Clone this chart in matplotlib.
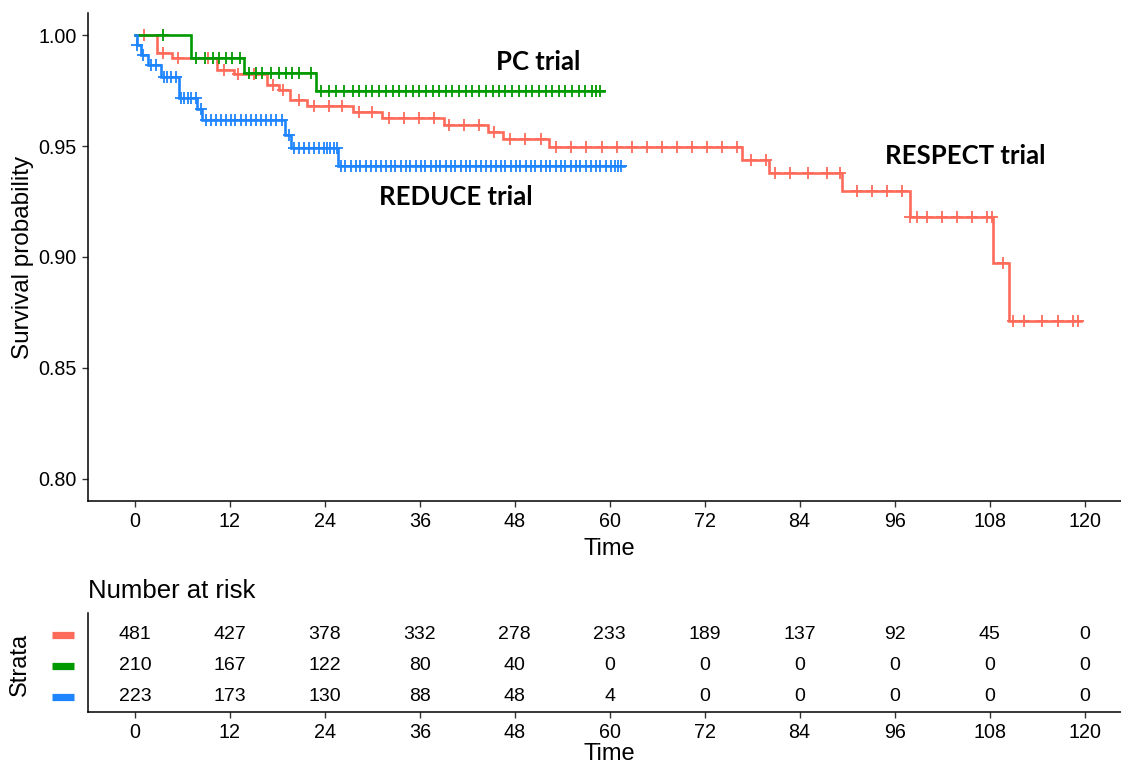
import numpy as np
import matplotlib
matplotlib.use("Agg")
import matplotlib.pyplot as plt
from matplotlib import transforms

plt.rcParams["font.family"] = ["Liberation Sans", "DejaVu Sans"]

# ---------------- data ----------------
strata = ["RESPECT trial", "PC trial", "REDUCE trial"]
colors = ["#FF6B5B", "#009A00", "#1F84FF"]

# RESPECT (red)
respect_event_t = [2.8, 4.7, 10.4, 12.5, 16.7, 18.2, 19.6, 21.7, 27.5, 31.2, 39.0, 44.6,
                   46.5, 52.3, 76.7, 80.1, 89.3, 97.9, 108.4, 110.5]
respect_surv = [0.9918, 0.9895, 0.9845, 0.9827, 0.9775, 0.9752, 0.9707, 0.9680, 0.9655,
                0.9625, 0.9595, 0.9564, 0.9530, 0.9497, 0.9437, 0.9377, 0.9297, 0.9182,
                0.8972, 0.8713]
respect_end = 119.6
respect_censor = [1.2, 3.5, 5.5, 9.2, 11.2, 13.0, 15.0, 17.4, 18.7, 20.7, 22.6, 24.5, 26.2,
                  28.3, 30.0, 32.1, 34.0, 35.9, 37.8, 39.7, 41.6, 43.5, 45.4, 47.4, 49.3,
                  51.3, 53.2, 55.1, 57.0, 59.0, 60.9, 62.8, 64.7, 66.6, 68.5, 70.4, 72.3,
                  74.2, 76.1, 77.8, 79.7, 80.9, 82.8, 85.0, 87.5, 89.1, 91.2, 93.1, 95.0,
                  96.9, 97.9, 98.8, 100.1, 102.0, 103.9, 105.8, 107.7, 108.3, 109.7, 111.0,
                  112.3, 114.6, 116.7, 118.6, 119.2]

# PC (green)
pc_event_t = [7.05, 13.8, 22.9]
pc_surv = [0.9895, 0.9830, 0.9748]
pc_end = 59.3
pc_censor = [3.5, 7.7, 8.8, 9.8, 10.6, 11.5, 12.3, 13.3, 14.4, 15.3, 16.1, 17.2, 18.2, 19.1,
             19.9, 20.7, 22.2, 23.5, 24.5, 25.4, 26.4, 27.5, 28.3, 29.2, 30.0, 30.9, 31.7,
             32.6, 33.4, 34.2, 35.1, 35.9, 36.8, 37.6, 38.4, 39.3, 40.1, 41.0, 41.8, 42.6,
             43.5, 44.3, 45.2, 46.0, 46.8, 47.7, 48.5, 49.4, 50.2, 51.0, 51.9, 52.7, 53.6,
             54.4, 55.2, 56.1, 56.9, 57.8, 58.3, 58.8]

# REDUCE (blue)
reduce_event_t = [0.3, 0.75, 1.6, 3.3, 5.6, 7.9, 8.5, 19.0, 19.7, 25.6]
reduce_surv = [0.9955, 0.9910, 0.9865, 0.9812, 0.9715, 0.9665, 0.9617, 0.9550, 0.9490, 0.9410]
reduce_end = 61.8
reduce_censor = [0.3, 1.0, 2.0, 2.7, 3.7, 4.1, 4.5, 5.2, 5.8, 6.2, 6.7, 7.1, 7.7, 8.3, 9.0,
                 9.6, 10.2, 10.9, 11.5, 12.1, 12.7, 13.4, 14.0, 14.6, 15.3, 15.9, 16.5, 17.2,
                 17.8, 18.6, 19.5, 20.1, 20.7, 21.4, 22.0, 22.6, 23.2, 23.9, 24.3, 24.7, 25.1,
                 25.5, 26.0, 26.6, 27.3, 27.9, 28.5, 29.2, 29.8, 30.4, 31.1, 31.7, 32.3, 32.9,
                 33.6, 34.2, 34.8, 35.5, 36.1, 36.7, 37.4, 38.0, 38.6, 39.3, 39.9, 40.5, 41.2,
                 41.8, 42.4, 43.1, 43.7, 44.3, 45.0, 45.6, 46.2, 46.8, 47.5, 48.1, 48.7, 49.4,
                 50.0, 50.6, 51.3, 51.9, 52.5, 53.2, 53.8, 54.4, 55.1, 55.7, 56.3, 57.0, 57.6,
                 58.2, 58.8, 59.5, 60.1, 60.7, 61.0, 61.4]

time_ticks = [0, 12, 24, 36, 48, 60, 72, 84, 96, 108, 120]
surv_ticks = [0.80, 0.85, 0.90, 0.95, 1.00]
risk_respect = [481, 427, 378, 332, 278, 233, 189, 137, 92, 45, 0]
risk_pc = [210, 167, 122, 80, 40, 0, 0, 0, 0, 0, 0]
risk_reduce = [223, 173, 130, 88, 48, 4, 0, 0, 0, 0, 0]

annot_labels = ["PC trial", "REDUCE trial", "RESPECT trial"]
annot_x = [51.0, 40.5, 104.9]
annot_y = [0.9878, 0.9270, 0.9455]

# ---------------- figure ----------------
W, H = 1121, 766
fig = plt.figure(figsize=(W / 100, H / 100), dpi=100)


def fx(px):
    return px / W


def fy(py):
    return 1 - py / H


main_left, main_right = 87.5, 1132
ax = fig.add_axes([fx(main_left), fy(501), fx(main_right - main_left), (501 - 13) / H])
ax_t = fig.add_axes([fx(main_left), fy(712), fx(main_right - main_left), (712 - 613) / H])

curves = [
    (respect_event_t, respect_surv, respect_end, respect_censor),
    (pc_event_t, pc_surv, pc_end, pc_censor),
    (reduce_event_t, reduce_surv, reduce_end, reduce_censor),
]

for (et, sv, end, cens), col in zip(curves, colors):
    xs = np.concatenate([[0.0], et, [end]])
    ys = np.concatenate([[1.0], sv, [sv[-1]]])
    ax.step(xs, ys, where="post", color=col, lw=1.9, solid_joinstyle="miter")
    cens = np.asarray(cens)
    idx = np.searchsorted(np.asarray(et), cens, side="right")
    cy = np.concatenate([[1.0], sv])[idx]
    ax.plot(cens, cy, linestyle="none", marker="+", color=col, markersize=8.5, mew=1.3)

ax.set_xlim(-6, 126)
ax.set_ylim(0.79, 1.01)
ax.set_xticks(time_ticks)
ax.set_yticks(surv_ticks)
ax.set_yticklabels([f"{v:.2f}" for v in surv_ticks])
for s in ["top", "right"]:
    ax.spines[s].set_visible(False)
for s in ["left", "bottom"]:
    ax.spines[s].set_linewidth(1.1)
ax.tick_params(axis="both", labelsize=14.2, length=4, width=1.0, color="#333333", pad=4)
ax.set_xlabel("Time", fontsize=17, labelpad=5)
ax.set_ylabel("Survival probability", fontsize=17.5)
ax.yaxis.set_label_coords((34 - main_left) / (main_right - main_left), 0.5)

for lab, xx, yy in zip(annot_labels, annot_x, annot_y):
    ax.text(xx, yy, lab, fontsize=18.5, fontweight="bold", family=["Lato", "DejaVu Sans"],
            ha="center", va="center", color="black")

# ---------------- risk table ----------------
rows = [risk_respect, risk_pc, risk_reduce]
row_y = [3, 2, 1]
for vals, ry in zip(rows, row_y):
    for t, v in zip(time_ticks, vals):
        ax_t.text(t, ry, str(v), ha="center", va="center", fontsize=14)

ax_t.set_xlim(-6, 126)
ax_t.set_ylim(0.5, 3.7)
ax_t.set_xticks(time_ticks)
ax_t.set_yticks([])
for s in ["top", "right"]:
    ax_t.spines[s].set_visible(False)
for s in ["left", "bottom"]:
    ax_t.spines[s].set_linewidth(1.1)
ax_t.tick_params(axis="x", labelsize=14.2, length=4, width=1.0, color="#333333", pad=4)
ax_t.set_xlabel("Time", fontsize=17, labelpad=1)

trans = transforms.blended_transform_factory(fig.transFigure, ax_t.transData)
for col, ry in zip(colors, row_y):
    ax_t.plot([fx(51.5), fx(74)], [ry, ry], transform=trans, color=col, lw=5.2,
              solid_capstyle="butt", clip_on=False)

fig.text(fx(88), fy(591), "Number at risk", fontsize=18.5, ha="left", va="center")
fig.text(fx(20), fy(664), "Strata", fontsize=17, rotation=90, ha="center", va="center")

fig.savefig("out.png", dpi=100)
